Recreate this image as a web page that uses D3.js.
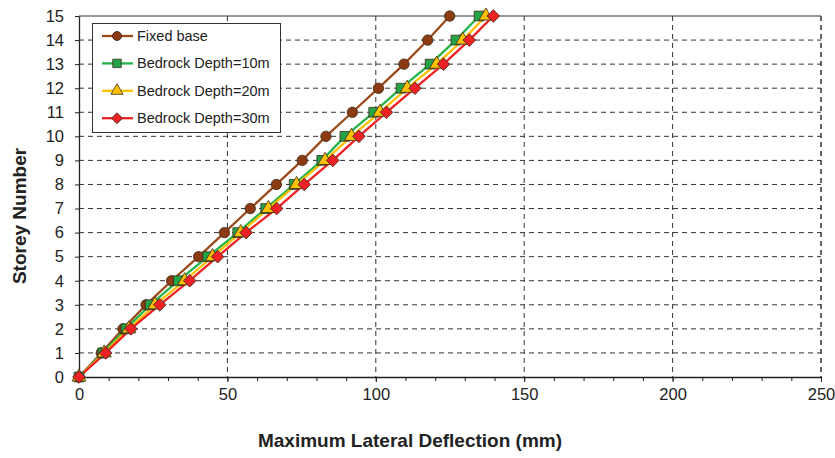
<!DOCTYPE html>
<html>
<head>
<meta charset="utf-8">
<script src="https://cdn.jsdelivr.net/npm/d3@7"></script>
<style>
  body { margin: 0; background: #fff; }
  svg { font-family: "Liberation Sans", Arial, sans-serif; }
</style>
</head>
<body>
<div id="chart"></div>
<script>
// storey numbers and max lateral deflection (mm)
var storeys = [0, 1, 2, 3, 4, 5, 6, 7, 8, 9, 10, 11, 12, 13, 14, 15];
var fixedBase = [0, 7.5, 14.8, 22.6, 31.2, 40.3, 49.0, 57.7, 66.5, 75.2, 83.2, 92.1, 100.9, 109.5, 117.5, 124.9];
var depth10 = [0, 8.0, 15.8, 24.0, 33.5, 43.4, 53.5, 62.9, 72.5, 81.8, 89.6, 99.3, 108.5, 118.3, 127.0, 134.8];
var depth20 = [0, 8.5, 16.8, 25.6, 35.6, 45.0, 54.5, 63.8, 73.3, 82.9, 91.8, 101.4, 110.6, 120.5, 129.3, 137.1];
var depth30 = [0, 9.0, 17.5, 27.2, 37.3, 46.7, 56.3, 66.6, 75.9, 85.5, 94.3, 103.6, 113.2, 122.8, 131.5, 139.6];
var seriesNames = ["Fixed base", "Bedrock Depth=10m", "Bedrock Depth=20m", "Bedrock Depth=30m"];
var xTicks = [0, 50, 100, 150, 200, 250];

var width = 835,
    height = 458,
    margin = {top: 16, right: 14, bottom: 81, left: 79};

var series = [
  {name: seriesNames[0], values: fixedBase, line: "#9a4a1c", fill: "#8b3a12", symbol: d3.symbolCircle, size: 85, rot: 0},
  {name: seriesNames[1], values: depth10, line: "#27b34b", fill: "#22a447", symbol: d3.symbolSquare, size: 95, rot: 0},
  {name: seriesNames[2], values: depth20, line: "#ffc000", fill: "#ffc000", symbol: d3.symbolTriangle, size: 85, rot: 0},
  {name: seriesNames[3], values: depth30, line: "#ee2224", fill: "#ee2224", symbol: d3.symbolSquare, size: 80, rot: 45}
];

var x = d3.scaleLinear().domain([0, 250]).range([margin.left, width - margin.right]);
var y = d3.scaleLinear().domain([0, 15]).range([height - margin.bottom, margin.top]);

var svg = d3.select("#chart").append("svg")
    .attr("width", width)
    .attr("height", height);

// gridlines
svg.append("g").selectAll("line")
    .data(storeys.slice(1, 15))
    .enter().append("line")
    .attr("x1", margin.left).attr("x2", width - margin.right)
    .attr("y1", function(d){ return y(d); }).attr("y2", function(d){ return y(d); })
    .attr("stroke", "#333").attr("stroke-width", 1).attr("stroke-dasharray", "5,4");

svg.append("g").selectAll("line")
    .data(xTicks.slice(1))
    .enter().append("line")
    .attr("x1", function(d){ return x(d); }).attr("x2", function(d){ return x(d); })
    .attr("y1", margin.top).attr("y2", height - margin.bottom)
    .attr("stroke", "#333").attr("stroke-width", function(d){ return d == 250 ? 1.5 : 1; })
    .attr("stroke-dasharray", "5,4");

// top border
svg.append("line")
    .attr("x1", margin.left).attr("x2", width - margin.right)
    .attr("y1", y(15)).attr("y2", y(15))
    .attr("stroke", "#333");

// axes
var xMinor = svg.append("g")
    .attr("transform", "translate(0," + y(0) + ")")
    .call(d3.axisBottom(x).tickValues(d3.range(0, 251, 10)).tickSize(4).tickFormat(""));
xMinor.select(".domain").remove();

var xAxis = svg.append("g")
    .attr("transform", "translate(0," + y(0) + ")")
    .call(d3.axisBottom(x).tickValues(xTicks).tickSize(5).tickSizeOuter(0).tickPadding(6));

var yAxis = svg.append("g")
    .attr("transform", "translate(" + margin.left + ",0)")
    .call(d3.axisLeft(y).tickValues(storeys).tickSize(4).tickSizeOuter(0).tickPadding(11));

[xAxis, yAxis, xMinor].forEach(function(a){
  a.selectAll("line").attr("stroke", "#222");
  a.select(".domain").attr("stroke", "#222").attr("stroke-width", 1.3);
  a.selectAll("text").attr("font-size", 16.5).attr("fill", "#222")
    .attr("font-family", "'Liberation Sans', Arial, sans-serif");
});

// axis titles
svg.append("text")
    .attr("x", 410)
    .attr("y", 447)
    .attr("text-anchor", "middle")
    .attr("font-size", 19).attr("font-weight", "bold").attr("fill", "#222")
    .text("Maximum Lateral Deflection (mm)");

svg.append("text")
    .attr("transform", "translate(26,216) rotate(-90)")
    .attr("text-anchor", "middle")
    .attr("font-size", 19).attr("font-weight", "bold").attr("fill", "#222")
    .text("Storey Number");

// lines and markers
var line = d3.line()
    .x(function(d){ return x(d[0]); })
    .y(function(d){ return y(d[1]); });

series.forEach(function(s){
  var pts = s.values.map(function(v, i){ return [v, storeys[i]]; });
  svg.append("path")
      .datum(pts)
      .attr("d", line)
      .attr("fill", "none")
      .attr("stroke", s.line)
      .attr("stroke-width", 2.3);
});

series.forEach(function(s){
  var pts = s.values.map(function(v, i){ return [v, storeys[i]]; });
  svg.append("g").selectAll("path")
      .data(pts)
      .enter().append("path")
      .attr("d", d3.symbol().type(s.symbol).size(s.size))
      .attr("transform", function(d){ return "translate(" + x(d[0]) + "," + y(d[1]) + ") rotate(" + s.rot + ")"; })
      .attr("fill", s.fill)
      .attr("stroke", "#3a2a1a")
      .attr("stroke-width", 0.8);
});

// legend
var legend = svg.append("g");
legend.append("rect")
    .attr("x", 92.5).attr("y", 23.5)
    .attr("width", 188).attr("height", 109)
    .attr("fill", "#fff").attr("stroke", "#333").attr("stroke-width", 1);

var items = legend.selectAll(".item")
    .data(series)
    .enter().append("g")
    .attr("class", "item")
    .attr("transform", function(d, i){ return "translate(0," + (36 + i * 27.4) + ")"; });

items.append("line")
    .attr("x1", 102).attr("x2", 133)
    .attr("stroke", function(d){ return d.line; })
    .attr("stroke-width", 2.3);

items.append("path")
    .attr("d", function(d){ return d3.symbol().type(d.symbol).size(d.size * 0.75)(); })
    .attr("transform", function(d){ return "translate(117,0) rotate(" + d.rot + ")"; })
    .attr("fill", function(d){ return d.fill; })
    .attr("stroke", "#3a2a1a").attr("stroke-width", 0.8);

items.append("text")
    .attr("x", 137).attr("y", 5)
    .attr("font-size", 14.5).attr("fill", "#222")
    .text(function(d){ return d.name; });
</script>
</body>
</html>
